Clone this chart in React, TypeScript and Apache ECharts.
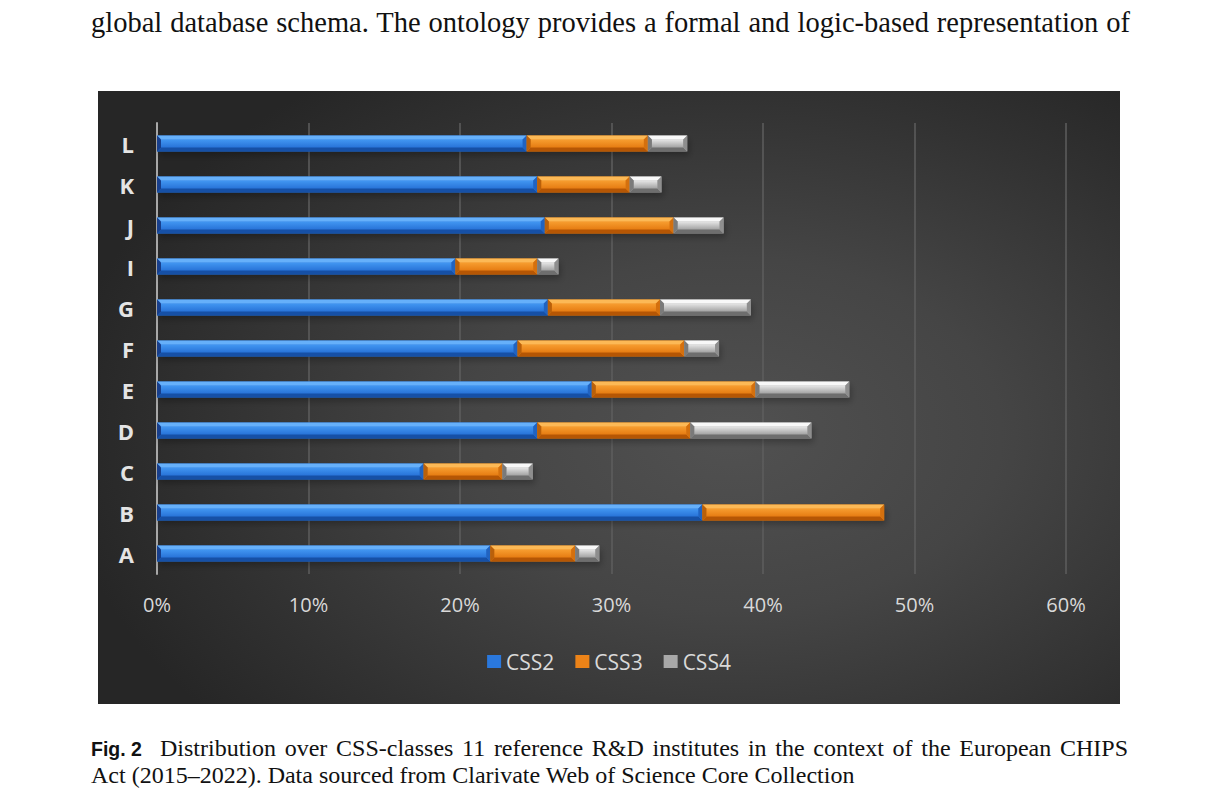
import React, { useEffect, useRef } from "react";
import * as echarts from "echarts";

const categories = ["A", "B", "C", "D", "E", "F", "G", "I", "J", "K", "L"];
const css2 = [22.0, 36.0, 17.6, 25.1, 28.7, 23.8, 25.8, 19.7, 25.6, 25.1, 24.4];
const css3 = [5.6, 12.0, 5.2, 10.1, 10.8, 11.0, 7.4, 5.4, 8.5, 6.1, 8.0];
const css4 = [1.6, 0, 2.0, 8.0, 6.2, 2.3, 6.0, 1.4, 3.3, 2.1, 2.6];
const seriesNames = ["CSS2", "CSS3", "CSS4"];
const xMax = 60;
const xInterval = 10;

const topLine =
  "global database schema. The ontology provides a formal and logic-based representation of";
const captionLabel = "Fig. 2";
const captionLine1 =
  "Distribution over CSS-classes 11 reference R&D institutes in the context of the European CHIPS";
const captionLine2 =
  "Act (2015\u20132022). Data sourced from Clarivate Web of Science Core Collection";

type Pal = {
  base: string;
  top: string;
  bottom: string;
  left: string;
  right: string;
  c0: string;
  c1: string;
};

const palettes: Pal[] = [
  { base: "#2a78dd", top: "#66b0fa", bottom: "#1650a6", left: "#183f8c", right: "#2163c0", c0: "#4297f2", c1: "#2873d8" },
  { base: "#ec8318", top: "#fcb956", bottom: "#b55604", left: "#b9600a", right: "#d4700e", c0: "#f79e30", c1: "#e67c12" },
  { base: "#a8a8a8", top: "#f8f8f8", bottom: "#6e6e6e", left: "#7a7a7a", right: "#8e8e8e", c0: "#e6e6e6", c1: "#a2a2a2" },
];

function makeRender(pal: Pal | null) {
  return (params: any, api: any) => {
    const s = api.value(0);
    const e = api.value(1);
    const c = api.value(2);
    if (e - s <= 0) return null;
    const p0 = api.coord([s, c]);
    const p1 = api.coord([e, c]);
    const h = api.size([0, 1])[1] * 0.39;
    const x0 = p0[0];
    const x1 = p1[0];
    const y0 = p0[1] - h / 2;
    const y1 = p0[1] + h / 2;
    if (!pal) {
      return {
        type: "rect",
        shape: { x: x0, y: y0, width: x1 - x0, height: h },
        style: {
          fill: "rgba(0,0,0,0.35)",
          shadowBlur: 6,
          shadowOffsetX: 2,
          shadowOffsetY: 4,
          shadowColor: "rgba(0,0,0,0.75)",
        },
      };
    }
    const b = Math.min(4, (x1 - x0) / 2);
    return {
      type: "group",
      children: [
        { type: "rect", shape: { x: x0, y: y0, width: x1 - x0, height: h }, style: { fill: pal.base } },
        {
          type: "rect",
          shape: { x: x0 + b, y: y0 + b, width: x1 - x0 - 2 * b, height: h - 2 * b },
          style: {
            fill: new echarts.graphic.LinearGradient(0, 0, 0, 1, [
              { offset: 0, color: pal.c0 },
              { offset: 1, color: pal.c1 },
            ]),
          },
        },
        { type: "polygon", shape: { points: [[x0, y0], [x1, y0], [x1 - b, y0 + b], [x0 + b, y0 + b]] }, style: { fill: pal.top } },
        { type: "polygon", shape: { points: [[x0, y1], [x1, y1], [x1 - b, y1 - b], [x0 + b, y1 - b]] }, style: { fill: pal.bottom } },
        { type: "polygon", shape: { points: [[x0, y0], [x0 + b, y0 + b], [x0 + b, y1 - b], [x0, y1]] }, style: { fill: pal.left } },
        { type: "polygon", shape: { points: [[x1, y0], [x1, y1], [x1 - b, y1 - b], [x1 - b, y0 + b]] }, style: { fill: pal.right } },
      ],
    };
  };
}

function Chart() {
  const ref = useRef<HTMLDivElement>(null);
  useEffect(() => {
    if (!ref.current) return;
    const chart = echarts.init(ref.current, null, { renderer: "svg" });
    const all = [css2, css3, css4];
    const starts: number[][] = [];
    let acc = categories.map(() => 0);
    all.forEach((vals) => {
      starts.push(acc.slice());
      acc = acc.map((a, i) => a + vals[i]);
    });
    const totals = acc;
    const series: any[] = [
      {
        type: "custom",
        name: "shadow",
        renderItem: makeRender(null),
        encode: { x: [0, 1], y: 2 },
        data: categories.map((_, i) => [0, totals[i], i]),
        silent: true,
        z: 1,
      },
    ];
    all.forEach((vals, k) => {
      series.push({
        type: "custom",
        name: seriesNames[k],
        renderItem: makeRender(palettes[k]),
        encode: { x: [0, 1], y: 2 },
        itemStyle: { color: palettes[k].base },
        data: categories.map((_, i) => [starts[k][i], starts[k][i] + vals[i], i]),
        z: 2,
      });
    });
    chart.setOption({
      animation: false,
      grid: { left: 59, right: 54, top: 32, bottom: 130, containLabel: false },
      xAxis: {
        type: "value",
        min: 0,
        max: xMax,
        interval: xInterval,
        axisLine: { show: false },
        axisTick: { show: false },
        splitLine: { show: true, lineStyle: { color: "#5e5e5e", width: 1.5 } },
        axisLabel: {
          formatter: "{value}%",
          color: "#d9d9d9",
          fontSize: 20,
          fontFamily: "Open Sans",
          margin: 20,
        },
      },
      yAxis: {
        type: "category",
        data: categories,
        axisLine: { show: true, lineStyle: { color: "#a8a8a8", width: 2 } },
        axisTick: { show: false },
        splitLine: { show: false },
        axisLabel: {
          color: "#e4e4e4",
          fontSize: 22,
          fontWeight: "bold",
          fontFamily: "Open Sans",
          margin: 23,
        },
      },
      legend: {
        data: seriesNames,
        left: "center",
        top: 555,
        icon: "rect",
        itemWidth: 14,
        itemHeight: 13,
        itemGap: 21,
        textStyle: { color: "#d9d9d9", fontSize: 21, fontFamily: "Open Sans" },
      },
      series,
    });
    return () => chart.dispose();
  }, []);
  return (
    <div
      ref={ref}
      style={{
        position: "absolute",
        left: 98,
        top: 91,
        width: 1022,
        height: 613,
        background:
          "radial-gradient(ellipse 66% 72% at 62% 56%, #515151 0%, #454545 40%, #313131 78%, #262626 100%)",
      }}
    />
  );
}

export default function App() {
  const serif = "'Liberation Serif', 'Times New Roman', serif";
  return (
    <div style={{ position: "absolute", left: 0, top: 0, width: 1218, height: 795, background: "#fff", overflow: "hidden" }}>
      <div
        style={{
          position: "absolute",
          left: 91,
          top: 9,
          width: 1039,
          fontFamily: serif,
          fontSize: 28.5,
          lineHeight: 1,
          whiteSpace: "nowrap",
          textAlign: "justify",
          textAlignLast: "justify",
          color: "#111",
        }}
      >
        {topLine}
      </div>
      <Chart />
      <div
        style={{
          position: "absolute",
          left: 91,
          top: 740,
          fontFamily: "'Liberation Sans', Arial, sans-serif",
          fontWeight: "bold",
          fontSize: 19.5,
          lineHeight: 1,
          color: "#111",
          whiteSpace: "nowrap",
        }}
      >
        {captionLabel}
      </div>
      <div
        style={{
          position: "absolute",
          left: 160,
          top: 736,
          width: 968,
          fontFamily: serif,
          fontSize: 24,
          lineHeight: 1,
          whiteSpace: "nowrap",
          textAlign: "justify",
          textAlignLast: "justify",
          color: "#111",
        }}
      >
        {captionLine1}
      </div>
      <div
        style={{
          position: "absolute",
          left: 91,
          top: 763,
          fontFamily: serif,
          fontSize: 24,
          lineHeight: 1,
          whiteSpace: "nowrap",
          color: "#111",
        }}
      >
        {captionLine2}
      </div>
    </div>
  );
}
